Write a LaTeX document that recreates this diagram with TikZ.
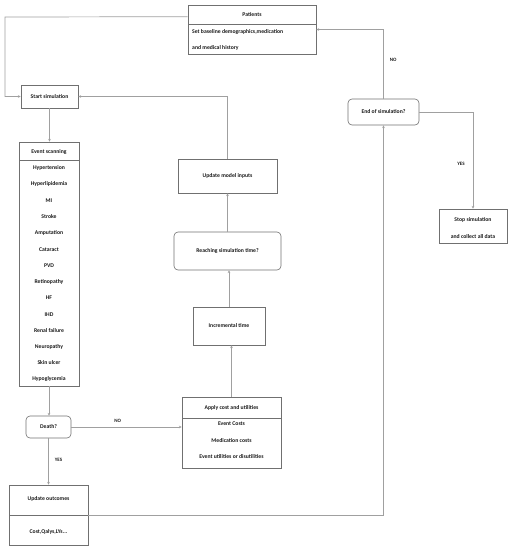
\documentclass[tikz,border=0pt]{standalone}
\usepackage{fontspec}
\setmainfont{Carlito}
\usetikzlibrary{arrows.meta,calc}
\definecolor{boxc}{HTML}{707070}
\definecolor{linec}{HTML}{A0A0A0}
\definecolor{txtc}{HTML}{1A1A1A}
\begin{document}
\begin{tikzpicture}[x=1pt,y=-1pt,
  font=\fontsize{5.7pt}{6.5pt}\selectfont\bfseries, text=txtc,
  box/.style={draw=boxc, line width=0.6pt, rectangle, inner sep=0pt, align=center},
  rbox/.style={box, rounded corners=4pt},
  conn/.style={draw=linec, line width=0.7pt, -{Stealth[length=2.8pt,width=2.6pt]}},
  lab/.style={inner sep=0pt, font=\fontsize{5pt}{6pt}\selectfont\bfseries},
  txt/.style={inner sep=0pt}]
\useasboundingbox (0,0) rectangle (515,550);

% Patients
\node[box, minimum width=128pt, minimum height=49pt] (pat) at (252,29.5) {};
\draw[boxc, line width=0.6pt] (188,24) -- (316,24);
\node[txt] (patt) at (252,15) {Patients};
\node[txt, anchor=west] (pat1) at (192,32) {Set baseline demographics,medication};
\node[txt, anchor=west] (pat2) at (192,48) {and medical history};

% Start simulation
\node[box, minimum width=57pt, minimum height=23pt] (start) at (49.5,96.5) {Start simulation};

% End of simulation
\node[rbox, minimum width=71pt, minimum height=26pt] (end) at (383.5,112) {End of simulation?};

% Stop simulation
\node[box, minimum width=68pt, minimum height=34pt] (stop) at (473,226) {};
\node[txt] (stop1) at (473,220) {Stop simulation};
\node[txt] (stop2) at (473,237) {and collect all data};

% Event scanning
\node[box, minimum width=60pt, minimum height=244pt] (evt) at (49,264) {};
\draw[boxc, line width=0.6pt] (19,160) -- (79,160);
\node[txt] (e0) at (49,152) {Event scanning};
\foreach \t [count=\i] in {Hypertension,Hyperlipidemia,MI,Stroke,Amputation,Cataract,PVD,Retinopathy,HF,IHD,Renal failure,Neuropathy,Skin ulcer,Hypoglycemia}
  \node[txt] (e\i) at (49,{168+(\i-1)*16.25}) {\t};

% Death?
\node[rbox, minimum width=45pt, minimum height=22pt] (death) at (48.5,427) {Death?};

% Update outcomes
\node[box, minimum width=79pt, minimum height=60pt] (out) at (48.5,515) {};
\draw[boxc, line width=0.6pt] (9,515) -- (88,515);
\node[txt] (out1) at (48.5,499) {Update outcomes};
\node[txt] (out2) at (48.5,532) {Cost,Qalys,LYs...};

% Apply cost and utilities
\node[box, minimum width=99pt, minimum height=71pt] (app) at (231.5,432.5) {};
\draw[boxc, line width=0.6pt] (182,418) -- (281,418);
\node[txt] (a0) at (231.5,408) {Apply cost and utilities};
\node[txt] (a1) at (231.5,424) {Event Costs};
\node[txt] (a2) at (231.5,441) {Medication costs};
\node[txt] (a3) at (231.5,457) {Event utilities or disutilities};

% Incremental time
\node[box, minimum width=72pt, minimum height=38pt] (inc) at (229,326) {Incremental time};

% Reaching simulation time?
\node[rbox, minimum width=107pt, minimum height=38pt] (reach) at (227.5,251) {Reaching simulation time?};

% Update model inputs
\node[box, minimum width=99pt, minimum height=34pt] (upd) at (227.5,176) {Update model inputs};

% connectors
\coordinate (c1) at (5,17);
\draw[conn] ([yshift=-12pt]pat.north west) -- (c1) |- (start.west);
\draw[conn] (upd.north) |- (start.east);
\draw[conn] (start.south) -- (start.south |- evt.north);
\draw[conn] (evt.south) -- (evt.south |- death.north);
\draw[conn] (death.east) -- (death.east -| app.west) node[lab, pos=0.42, above=4pt] {NO};
\draw[conn] (death.south) -- (death.south |- out.north) node[lab, pos=0.47, right=6pt] {YES};
\draw[conn] (app.north) -- (app.north |- inc.south);
\draw[conn] (inc.north) -- (inc.north |- reach.south);
\draw[conn] (reach.north) -- (upd.south);
\draw[conn] (out.east) -| (end.south);
\draw[conn] (end.north) |- (pat.east) node[lab, pos=0.28, right=6pt] {NO};
\draw[conn] (end.east) -| (stop.north) node[lab, pos=0.77, left=8pt] {YES};
\end{tikzpicture}
\end{document}
